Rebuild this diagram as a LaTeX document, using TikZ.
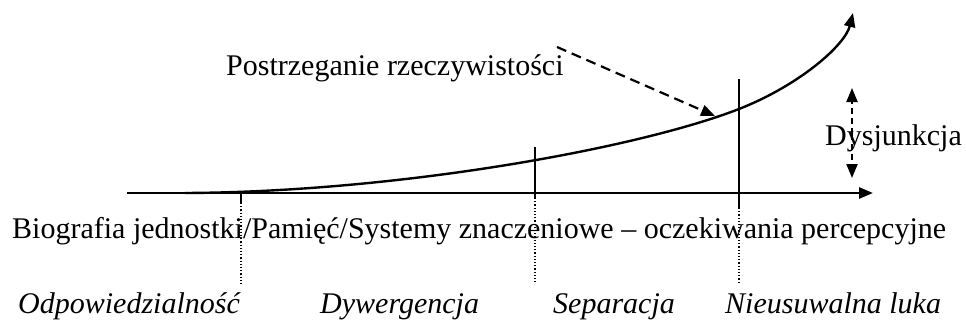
\documentclass[tikz,border=0pt]{standalone}
\usepackage{fontspec}
\setmainfont{Liberation Serif}
\usetikzlibrary{arrows.meta,positioning}

\begin{document}
\begin{tikzpicture}[
  x=1pt, y=-1pt, >={Triangle[length=14pt,width=11pt]},
  txt/.style={inner sep=0pt,anchor=base west,font=\fontsize{30}{36}\selectfont},
  phase/.style={txt,font=\fontsize{30}{36}\selectfont\itshape},
  axisline/.style={line width=2.6pt},
  curveline/.style={line width=2.4pt},
  tick/.style={line width=1.6pt},
  guide/.style={line width=1.2pt,dotted},
  hint/.style={line width=2.2pt,dash pattern=on 10pt off 6pt}]
\useasboundingbox (0,0) rectangle (966,324);
% axis
\coordinate (o) at (127,193);
\coordinate (xend) at (873,193);
\draw[axisline,->] (o) -- (xend);
% phase borders
\coordinate (b1top) at (241,192);
\coordinate (b2top) at (535,147);
\coordinate (b3top) at (739,79);
\coordinate (b1mid) at (241,203);
\coordinate (b2mid) at (535,198);
\coordinate (b3mid) at (739,208);
\coordinate (b1bot) at (241,284);
\coordinate (b2bot) at (535,284);
\coordinate (b3bot) at (739,284);
\draw[tick] (b1top) -- (b1mid);
\draw[tick] (b2top) -- (b2mid);
\draw[tick] (b3top) -- (b3mid);
\draw[guide] (b1mid) -- (b1bot);
\draw[guide] (b2mid) -- (b2bot);
\draw[guide] (b3mid) -- (b3bot);
% perception curve
\coordinate (cstart) at (185,193);
\coordinate (cend) at (853,13);
\draw[curveline,->] (cstart) .. controls (400,192) and (639,148) .. (739,109)
  .. controls (800,85) and (845,45) .. (cend);
% labels
\node[txt] (persp) at (226,75) {Postrzeganie rzeczywistości};
\coordinate (pstart) at (557,47);
\coordinate (pend) at (715,116);
\draw[hint,->] (pstart) -- (pend);
\node[txt] (dys) at (825,145) {Dysjunkcja};
\coordinate (dmid) at (852,134);
\coordinate (dup) at (852,88);
\coordinate (ddown) at (852,178);
\draw[hint,dash pattern=on 6pt off 4pt,->] (dmid) -- (dup);
\draw[hint,dash pattern=on 6pt off 4pt,->] (dmid) -- (ddown);
\node[txt] (bio) at (12,238) {Biografia jednostki/Pamięć/Systemy znaczeniowe – oczekiwania percepcyjne};
\node[phase] (resp) at (18,313) {Odpowiedzialność};
\node[phase] (diverg) at (320,313) {Dywergencja};
\node[phase] (sep) at (553,313) {Separacja};
\node[phase] (gap) at (725,313) {Nieusuwalna luka};
\end{tikzpicture}
\end{document}
